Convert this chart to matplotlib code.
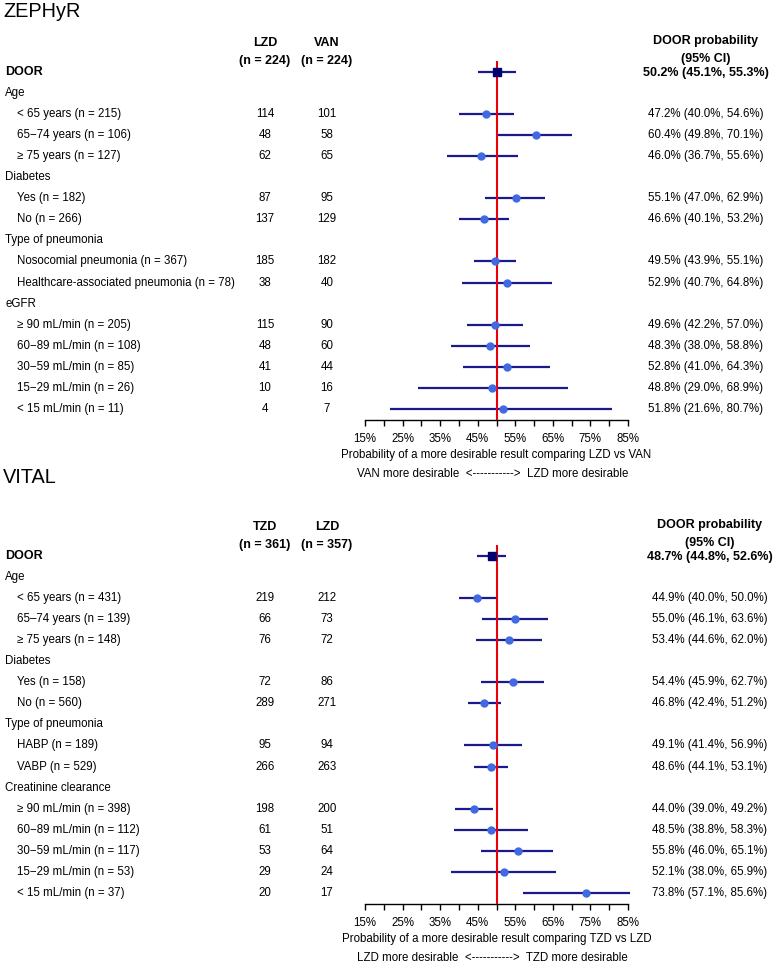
import matplotlib.pyplot as plt

plt.rcParams['font.family'] = ['Liberation Sans', 'DejaVu Sans']

# ---- ZEPHyR data
zeph_rows = ['DOOR', 'Age', '< 65 years (n = 215)', '65\u221274 years (n = 106)', '\u2265 75 years (n = 127)',
             'Diabetes', 'Yes (n = 182)', 'No (n = 266)',
             'Type of pneumonia', 'Nosocomial pneumonia (n = 367)',
             'Healthcare-associated pneumonia (n = 78)',
             'eGFR', '\u2265 90 mL/min (n = 205)', '60\u221289 mL/min (n = 108)', '30\u221259 mL/min (n = 85)',
             '15\u221229 mL/min (n = 26)', '< 15 mL/min (n = 11)']
zeph_arm1 = [None, None, 114, 48, 62, None, 87, 137, None, 185, 38, None, 115, 48, 41, 10, 4]
zeph_arm2 = [None, None, 101, 58, 65, None, 95, 129, None, 182, 40, None, 90, 60, 44, 16, 7]
zeph_est = [50.2, None, 47.2, 60.4, 46.0, None, 55.1, 46.6, None, 49.5, 52.9, None, 49.6, 48.3, 52.8, 48.8, 51.8]
zeph_lo = [45.1, None, 40.0, 49.8, 36.7, None, 47.0, 40.1, None, 43.9, 40.7, None, 42.2, 38.0, 41.0, 29.0, 21.6]
zeph_hi = [55.3, None, 54.6, 70.1, 55.6, None, 62.9, 53.2, None, 55.1, 64.8, None, 57.0, 58.8, 64.3, 68.9, 80.7]
zeph_arms = ['LZD', 'VAN']
zeph_totals = [224, 224]

# ---- VITAL data
vital_rows = ['DOOR', 'Age', '< 65 years (n = 431)', '65\u201374 years (n = 139)', '\u2265 75 years (n = 148)',
              'Diabetes', 'Yes (n = 158)', 'No (n = 560)',
              'Type of pneumonia', 'HABP (n = 189)', 'VABP (n = 529)',
              'Creatinine clearance', '\u2265 90 mL/min (n = 398)', '60\u221289 mL/min (n = 112)',
              '30\u221259 mL/min (n = 117)', '15\u221229 mL/min (n = 53)', '< 15 mL/min (n = 37)']
vital_arm1 = [None, None, 219, 66, 76, None, 72, 289, None, 95, 266, None, 198, 61, 53, 29, 20]
vital_arm2 = [None, None, 212, 73, 72, None, 86, 271, None, 94, 263, None, 200, 51, 64, 24, 17]
vital_est = [48.7, None, 44.9, 55.0, 53.4, None, 54.4, 46.8, None, 49.1, 48.6, None, 44.0, 48.5, 55.8, 52.1, 73.8]
vital_lo = [44.8, None, 40.0, 46.1, 44.6, None, 45.9, 42.4, None, 41.4, 44.1, None, 39.0, 38.8, 46.0, 38.0, 57.1]
vital_hi = [52.6, None, 50.0, 63.6, 62.0, None, 62.7, 51.2, None, 56.9, 53.1, None, 49.2, 58.3, 65.1, 65.9, 85.6]
vital_arms = ['TZD', 'LZD']
vital_totals = [361, 357]

W, H = 775, 966
# x axis: 15% sits at 365 px, 85% at 628 px; the axes spans the whole figure width
ppu = (628 - 365) / 70.0
XMIN = 15 - 365 / ppu
XMAX = 15 + (W - 365) / ppu
ROW = 21.06  # px per row


def draw_panel(top_px, axis_px, rows, arm1, arm2, est, lo, hi, arms, totals,
               xlabel, direction, prob_x):
    ax = fig.add_axes([0, 1 - axis_px / H, 1, (axis_px - top_px) / H])
    door_px = top_px + 0.52 * ROW
    ax.set_xlim(XMIN, XMAX)
    ax.set_ylim((axis_px - door_px) / ROW, (top_px - door_px) / ROW)
    ax.patch.set_visible(False)
    for s in ['top', 'left', 'right']:
        ax.spines[s].set_visible(False)
    ax.spines['bottom'].set_bounds(15, 85)
    ax.spines['bottom'].set_linewidth(1.0)
    ticks = list(range(15, 90, 5))
    ax.set_xticks(ticks)
    ax.set_xticklabels([f'{t}%' if (t - 15) % 10 == 0 else '' for t in ticks], fontsize=8.3)
    ax.tick_params(axis='x', direction='out', length=4, width=1.0, pad=5.5)
    ax.set_yticks([])

    tr = ax.get_yaxis_transform()
    ax.axvline(50, color='#e8000b', lw=1.5, zorder=3)

    for i, lab in enumerate(rows):
        if i == 0:
            ax.text(5 / W, i, lab, transform=tr, fontsize=9, fontweight='bold', va='center')
            ax.hlines(i, lo[i], hi[i], color='#1a1a8c', lw=1.6, zorder=2)
            ax.plot(est[i], i, 's', color='#000070', ms=5.5, zorder=4)
            ax.text(prob_x / W, i + 0.05, f'{est[i]:.1f}% ({lo[i]:.1f}%, {hi[i]:.1f}%)', transform=tr,
                    fontsize=9, fontweight='bold', ha='center', va='center')
        elif arm1[i] is None:
            ax.text(5 / W, i, lab, transform=tr, fontsize=8.3, va='center')
        else:
            ax.text(17 / W, i, lab, transform=tr, fontsize=8.3, va='center')
            ax.text(265 / W, i, str(arm1[i]), transform=tr, fontsize=8.3, ha='center', va='center')
            ax.text(327 / W, i, str(arm2[i]), transform=tr, fontsize=8.3, ha='center', va='center')
            ax.hlines(i, lo[i], hi[i], color='#1a1a8c', lw=1.6, zorder=2)
            ax.plot(est[i], i, 'o', color='#4169e1', ms=5, zorder=4)
            ax.text(prob_x / W, i, f'{est[i]:.1f}% ({lo[i]:.1f}%, {hi[i]:.1f}%)', transform=tr,
                    fontsize=8.3, ha='center', va='center')

    # column headers
    for x, a, n in zip([265, 327], arms, totals):
        ax.text(x / W, -1.38, a, transform=tr, fontsize=9, fontweight='bold', ha='center', va='center')
        ax.text(x / W, -0.52, f'(n = {n})', transform=tr, fontsize=9, fontweight='bold',
                ha='center', va='center')
    ax.text(prob_x / W, -1.45, 'DOOR probability', transform=tr, fontsize=9, fontweight='bold',
            ha='center', va='center')
    ax.text(prob_x / W, -0.62, '(95% CI)', transform=tr, fontsize=9, fontweight='bold',
            ha='center', va='center')

    # axis captions
    ax.text(50, (455 - 72) / ROW, xlabel, fontsize=8.3, ha='center', va='center')
    ax.text(49, (474 - 72) / ROW, direction, fontsize=8.3, ha='center', va='center')
    return ax


fig = plt.figure(figsize=(W / 100, H / 100), dpi=100)

fig.text(3 / W, 1 - 17 / H, 'ZEPHyR', fontsize=14.3, va='baseline')
draw_panel(61, 420, zeph_rows, zeph_arm1, zeph_arm2, zeph_est, zeph_lo, zeph_hi,
           zeph_arms, zeph_totals,
           'Probability of a more desirable result comparing LZD vs VAN',
           'VAN more desirable  <----------->  LZD more desirable', 706)

fig.text(3 / W, 1 - 483 / H, 'VITAL', fontsize=14.3, va='baseline')
draw_panel(545, 904, vital_rows, vital_arm1, vital_arm2, vital_est, vital_lo, vital_hi,
           vital_arms, vital_totals,
           'Probability of a more desirable result comparing TZD vs LZD',
           'LZD more desirable  <----------->  TZD more desirable', 710)

fig.savefig('out.png', dpi=100)
